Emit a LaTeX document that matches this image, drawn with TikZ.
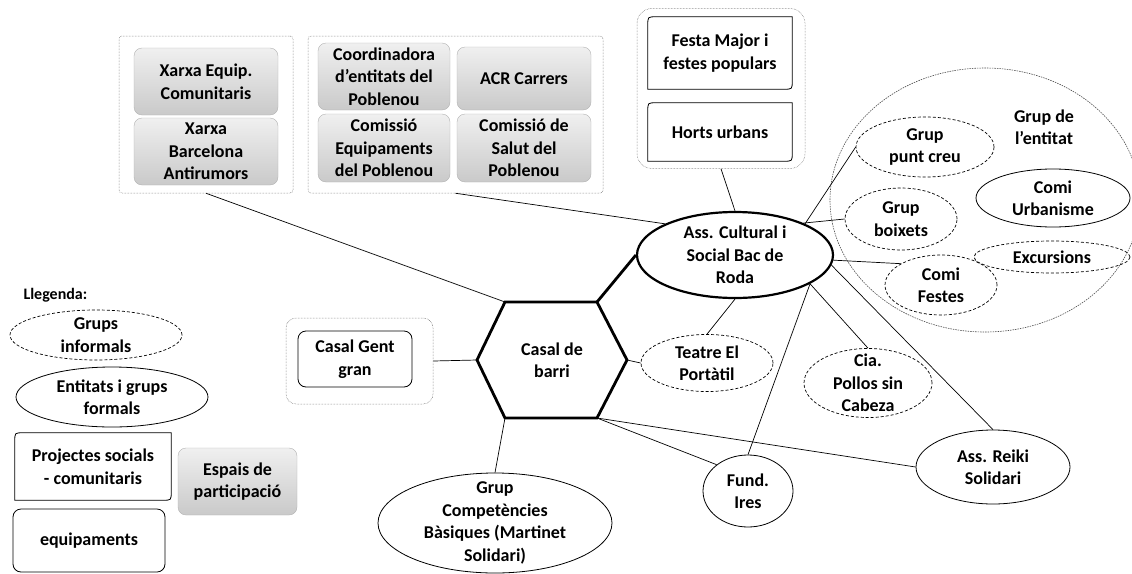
\documentclass[tikz,border=0pt]{standalone}
\usepackage{fontspec}
\setmainfont{Carlito}
\usetikzlibrary{shapes.geometric}

% box with two rounded corners (top left, bottom right)
\newcommand{\diagframe}[1]{%
  \draw[line width=0.8pt] ([yshift=-8pt]#1.north west) .. controls (#1.north west) .. ([xshift=8pt]#1.north west)
    -- (#1.north east) -- ([yshift=8pt]#1.south east)
    .. controls (#1.south east) .. ([xshift=-8pt]#1.south east)
    -- (#1.south west) -- cycle;}

\tikzset{
  every node/.style={font=\bfseries\fontsize{18}{22.5}\selectfont, align=center},
  txt/.style={label={center:#1}},
  grbox/.style={rectangle, rounded corners=8pt, draw=gray!60, top color=gray!12, bottom color=gray!42, inner sep=0pt},
  cont/.style={rectangle, draw=gray!70!black, densely dotted, line width=0.5pt, rounded corners=3pt, inner sep=0pt},
  wbox/.style={rectangle, draw, rounded corners=8pt, line width=0.8pt, inner sep=0pt},
  infml/.style={ellipse, draw, dash pattern=on 3pt off 2pt, line width=0.7pt, inner sep=0pt},
  fml/.style={ellipse, draw, line width=0.8pt, inner sep=0pt},
  ring/.style={ellipse, draw=gray!60!black, dash pattern=on 1.5pt off 1pt, line width=0.6pt, inner sep=0pt},
  link/.style={line width=0.7pt},
  strong/.style={line width=2.8pt},
}

\begin{document}
\begin{tikzpicture}[x=1pt,y=-1pt]
    \useasboundingbox (0,0) rectangle (1132,573);

    % xarxes
    \node[cont, minimum width=174pt, minimum height=157pt] (xcont) at (206,114.5) {};
    \node[grbox, minimum width=144pt, minimum height=67pt] (xequip) at (206,81.5) {Xarxa Equip.\\Comunitaris};
    \node[grbox, minimum width=144pt, minimum height=67pt] (xanti) at (206,151.5) {Xarxa\\Barcelona\\Antirumors};

    % espais del Poblenou
    \node[cont, minimum width=295pt, minimum height=157pt] (pcont) at (455.5,114.5) {};
    \node[grbox, minimum width=132pt, minimum height=67pt] (coord) at (384,76.5) {Coordinadora\\d’entitats del\\Poblenou};
    \node[grbox, minimum width=134pt, minimum height=63pt] (acr) at (524,78.5) {ACR Carrers};
    \node[grbox, minimum width=132pt, minimum height=68pt] (comeq) at (384,148) {Comissió\\Equipaments\\del Poblenou};
    \node[grbox, minimum width=134pt, minimum height=68pt] (comsal) at (524,148) {Comissió de\\Salut del\\Poblenou};

    % projectes
    \node[cont, rounded corners=15pt, minimum width=168pt, minimum height=160pt] (fcont) at (721,88.5) {};
    \node[inner sep=0pt, minimum width=144pt, minimum height=72pt] (festa) at (720,53) {Festa Major i\\festes populars};
    \node[inner sep=0pt, minimum width=144pt, minimum height=58pt] (horts) at (720,132) {Horts urbans};
    \diagframe{festa}
    \diagframe{horts}

    % grup de l'entitat
    \node[ring, minimum width=310pt, minimum height=264pt] (grp) at (985,200) {};
    \node (grptxt) at (1044,127) {Grup de\\l’entitat};
    \node[infml, minimum width=138pt, minimum height=60pt, txt={Grup\\punt creu}] (punt) at (925,147) {};
    \node[infml, minimum width=112pt, minimum height=62pt, txt={Grup\\boixets}] (boix) at (901,219) {};
    \node[fml, minimum width=154pt, minimum height=58pt, txt={Comi\\Urbanisme}] (urb) at (1053,198) {};
    \node[infml, minimum width=156pt, minimum height=32pt, txt={Excursions}] (exc) at (1052,257) {};
    \node[infml, minimum width=112pt, minimum height=60pt, txt={Comi\\Festes}] (fest) at (941,285) {};

    % entitats
    \node[fml, line width=2.2pt, minimum width=196pt, minimum height=86pt, txt={Ass. Cultural i\\Social Bac de\\Roda}] (ass) at (735,255) {};
    \node[infml, minimum width=132pt, minimum height=57pt, txt={Teatre El\\Portàtil}] (teatre) at (707,363) {};
    \node[infml, minimum width=128pt, minimum height=69pt, txt={Cia.\\Pollos sin\\Cabeza}] (cia) at (868,383) {};
    \node[fml, minimum width=90pt, minimum height=72pt, txt={Fund.\\Ires}] (fund) at (748,491) {};
    \node[fml, minimum width=154pt, minimum height=74pt, txt={Ass. Reiki\\Solidari}] (reiki) at (993,467) {};
    \node[fml, minimum width=234pt, minimum height=100pt, txt={Grup\\Competències\\Bàsiques (Martinet\\Solidari)}] (comp) at (495,523) {};

    % casal de barri
    \coordinate (hTL) at (505,302);
    \coordinate (hTR) at (597,302);
    \coordinate (hR) at (627,360);
    \coordinate (hBR) at (597,418);
    \coordinate (hBL) at (505,418);
    \coordinate (hL) at (477,360);
    \draw[strong] (hTL) -- (hTR) -- (hR) -- (hBR) -- (hBL) -- (hL) -- cycle;
    \node (barri) at (552,360) {Casal de\\barri};

    \node[cont, rounded corners=10pt, minimum width=147pt, minimum height=86pt] (gcont) at (359.5,361) {};
    \node[wbox, minimum width=114pt, minimum height=56pt] (gent) at (355,359) {Casal Gent\\gran};

    % llegenda
    \node[anchor=west, font=\bfseries\fontsize{16}{19}\selectfont] (lleg) at (20,295) {Llegenda:};
    \node[infml, minimum width=172pt, minimum height=50pt, txt={Grups\\informals}] (linf) at (96,335) {};
    \node[fml, minimum width=192pt, minimum height=60pt, txt={Entitats i grups\\formals}] (lform) at (112,397) {};
    \node[inner sep=0pt, minimum width=156pt, minimum height=67pt] (lproj) at (93,466.5) {Projectes socials\\- comunitaris};
    \diagframe{lproj}
    \node[grbox, minimum width=119pt, minimum height=67pt] (lesp) at (237.5,481.5) {Espais de\\participació};
    \node[wbox, minimum width=152pt, minimum height=63pt] (lequip) at (89,540.5) {equipaments};

    % connexions
    \draw[link] (xcont.south) -- (hTL);
    \draw[link] (pcont.south) -- (ass.156);
    \draw[link] (fcont.south) -- (ass.north);
    \draw[strong] (hTR) -- (ass.west);
    \draw[link] (ass.24) -- (punt.west);
    \draw[link] (ass.25) -- (boix.west);
    \draw[link] (ass.-3) -- (fest.152);
    \draw[link] (ass.-6) -- (reiki.north);
    \draw[link] (ass.-21) -- (cia.north);
    \draw[link] (ass.-21) -- (fund.north);
    \draw[link] (ass.south) -- (teatre.north);
    \draw[link] (hR) -- (teatre.west);
    \draw[link] (hBR) -- (fund.140);
    \draw[link] (hBR) -- (reiki.west);
    \draw[link] (hBL) -- (comp.north);
    \draw[link] (hL) -- (gcont.east);
\end{tikzpicture}
\end{document}
